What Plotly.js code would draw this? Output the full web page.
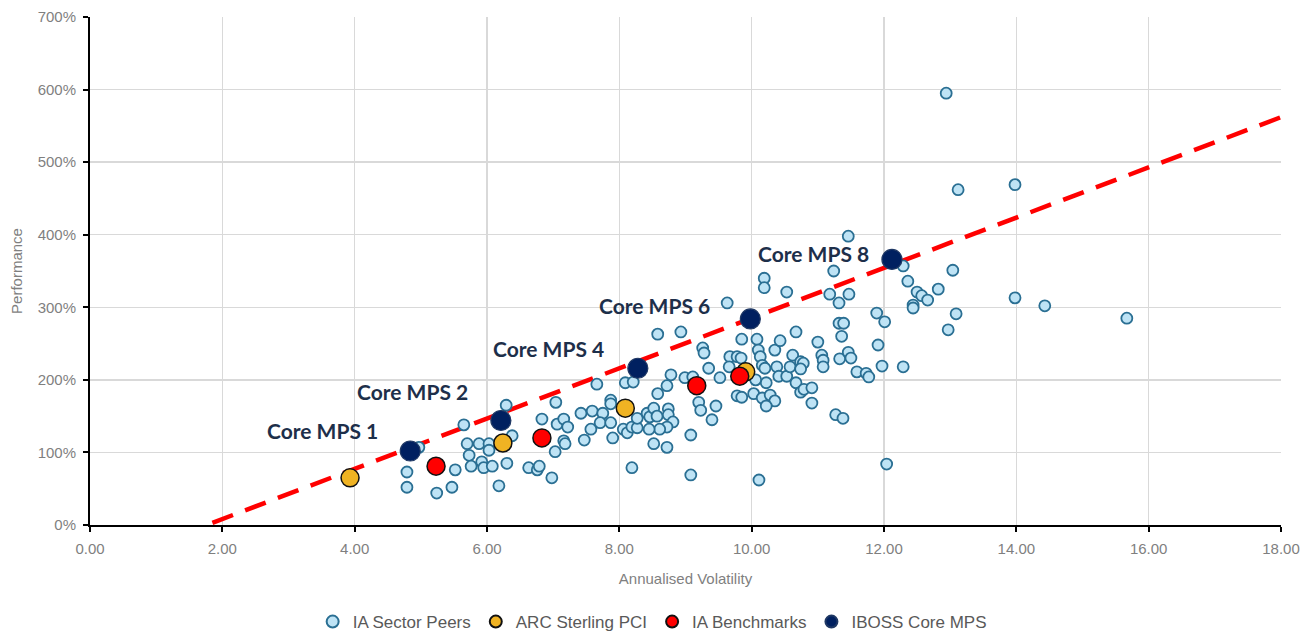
<!DOCTYPE html>
<html>
<head>
<meta charset="utf-8">
<script src="https://cdn.plot.ly/plotly-3.0.1.min.js"></script>
<style>
html,body{margin:0;padding:0;background:#fff;}
#chart{width:1312px;height:632px;}
</style>
</head>
<body>
<div id="chart"></div>
<script>
// IA Sector Peers: annualised volatility (x) and performance % (y)
const peersVol = [4.79,4.79,4.97,5.24,5.47,5.52,5.65,5.70,5.73,5.76,5.88,6.03,6.03,5.92,5.95,6.08,6.18,6.29,6.38,6.30,
  6.63,6.76,6.79,6.83,6.98,7.03,7.04,7.06,7.16,7.22,7.16,7.18,7.47,7.42,7.59,7.75,7.57,7.71,7.87,7.87,
  7.87,7.66,7.90,8.06,8.12,8.19,8.27,8.27,8.09,8.21,8.19,8.42,8.46,8.52,8.57,8.74,8.74,8.81,8.72,8.61,
  8.45,8.52,8.72,8.58,8.72,8.78,8.99,9.11,8.58,8.93,9.26,9.28,9.35,9.52,9.20,9.23,9.46,9.40,9.08,9.08,
  9.63,9.85,10.08,9.67,9.78,9.84,9.66,10.10,10.13,10.16,10.20,10.35,10.43,10.38,10.41,10.53,10.58,10.22,10.06,9.78,
  9.85,10.03,10.16,10.28,10.35,10.22,10.11,10.53,10.19,10.19,10.67,11.00,10.62,10.74,10.78,10.74,11.06,11.08,11.08,11.33,
  11.46,11.50,11.59,11.73,11.77,11.91,12.29,10.67,10.74,10.79,10.91,10.91,11.27,11.38,11.18,11.32,11.47,11.32,11.39,11.36,
  11.89,12.01,11.46,11.24,12.29,12.36,12.50,12.57,12.66,12.44,12.44,12.82,13.04,13.09,12.97,12.04,12.94,13.12,13.98,13.98,
  14.43,15.67,11.97];
const peersPerf = [73,52,107,44,52,76,138,112,96,81,112,112,103,87,79,81,54,165,123,85,
  79,76,81,146,65,101,169,139,146,135,116,112,117,154,157,154,132,141,141,172,
  167,194,120,132,127,135,134,147,196,197,79,154,149,161,150,160,152,142,135,132,
  132,112,107,181,192,207,203,204,263,266,244,237,216,203,169,158,164,145,124,69,
  306,256,256,232,232,230,218,241,232,220,216,241,254,218,205,205,218,196,200,178,
  176,181,175,179,171,164,62,321,340,327,266,252,234,225,223,215,234,227,218,229,
  238,230,211,209,204,248,218,196,183,187,189,168,152,147,318,306,318,278,278,260,
  292,280,398,350,357,336,321,316,310,303,299,325,351,291,269,84,595,462,469,313,
  302,285,219];

// ARC Sterling PCI
const arcVol = [3.93, 6.24, 8.09, 9.91];
const arcPerf = [65, 113, 161, 211];

// IA Benchmarks
const benchVol = [5.23, 6.83, 9.17, 9.82];
const benchPerf = [81, 120, 192, 205];

// IBOSS Core MPS
const mpsNames = ["Core MPS 1", "Core MPS 2", "Core MPS 4", "Core MPS 6", "Core MPS 8"];
const mpsVol = [4.84, 6.21, 8.28, 9.98, 12.12];
const mpsPerf = [102, 144, 216, 284, 366];

// Trend line end points
const trendVol = [1.85, 18];
const trendPerf = [3, 562];

const legendNames = ["IA Sector Peers", "ARC Sterling PCI", "IA Benchmarks", "IBOSS Core MPS"];

// label offsets in pixels (left, up) for the MPS annotations
const labelShift = [[-30, 20], [-31, 29], [-32, 20], [-38, 13], [-21, 6]];

const traces = [
  {x: trendVol, y: trendPerf, mode: 'lines', type: 'scatter', showlegend: false, hoverinfo: 'skip',
   line: {color: '#FF0000', width: 4.5, dash: '22px,13px'}},
  {x: peersVol, y: peersPerf, mode: 'markers', type: 'scatter', name: legendNames[0],
   marker: {size: 11, color: '#BEE3F5', line: {color: '#2A6F93', width: 1.8}}},
  {x: arcVol, y: arcPerf, mode: 'markers', type: 'scatter', name: legendNames[1],
   marker: {size: 18, color: '#F0B323', line: {color: '#111111', width: 1.5}}},
  {x: benchVol, y: benchPerf, mode: 'markers', type: 'scatter', name: legendNames[2],
   marker: {size: 18, color: '#FF0000', line: {color: '#111111', width: 1.5}}},
  {x: mpsVol, y: mpsPerf, mode: 'markers', type: 'scatter', name: legendNames[3], text: mpsNames,
   marker: {size: 20, color: '#002060', line: {color: '#1F3864', width: 1.2}}}
];

const annotations = mpsNames.map((n, i) => ({
  x: mpsVol[i], y: mpsPerf[i], xref: 'x', yref: 'y', text: '<b>' + n + '</b>', showarrow: false,
  xanchor: 'right', yanchor: 'middle', xshift: labelShift[i][0], yshift: labelShift[i][1],
  font: {family: 'Lato, "Open Sans", sans-serif', size: 21, color: '#1D2F4A'}
}));

const tickFont = {family: '"Liberation Sans", Arial, sans-serif', size: 15, color: '#7F7F7F'};

const layout = {
  width: 1312, height: 632,
  margin: {l: 90, r: 31, t: 17, b: 107, autoexpand: false},
  paper_bgcolor: '#ffffff', plot_bgcolor: '#ffffff',
  showlegend: true,
  legend: {orientation: 'h', x: 0.472, xanchor: 'center', y: -0.191, yanchor: 'middle',
    font: {family: '"Liberation Sans Narrow", "Liberation Sans", sans-serif', size: 17, color: '#595959'},
    itemsizing: 'constant', itemwidth: 30, traceorder: 'normal'},
  xaxis: {range: [0, 18], dtick: 2, tick0: 0, tickformat: '.2f', showgrid: true, gridcolor: '#D9D9D9', gridwidth: 1.5,
    zeroline: false, showline: true, linecolor: '#000000', linewidth: 2, ticks: 'outside', ticklen: 5, tickwidth: 2,
    tickcolor: '#000000', tickfont: tickFont, fixedrange: true, ticklabelstandoff: 4, automargin: false,
    title: {text: 'Annualised Volatility', font: {family: '"Liberation Sans", Arial, sans-serif', size: 15, color: '#7F7F7F'}, standoff: 17}},
  yaxis: {range: [0, 700], dtick: 100, ticksuffix: '%', showgrid: true, gridcolor: '#D9D9D9', gridwidth: 1.5,
    zeroline: false, showline: true, linecolor: '#000000', linewidth: 2, ticks: 'outside', ticklen: 5, tickwidth: 2,
    tickcolor: '#000000', tickfont: tickFont, fixedrange: true, mirror: false, ticklabelstandoff: 4, automargin: false,
    title: {text: 'Performance', font: {family: '"Liberation Sans", Arial, sans-serif', size: 15, color: '#7F7F7F'}, standoff: 11}},
  annotations: annotations
};

Plotly.newPlot('chart', traces, layout, {displayModeBar: false, staticPlot: true});
</script>
</body>
</html>
